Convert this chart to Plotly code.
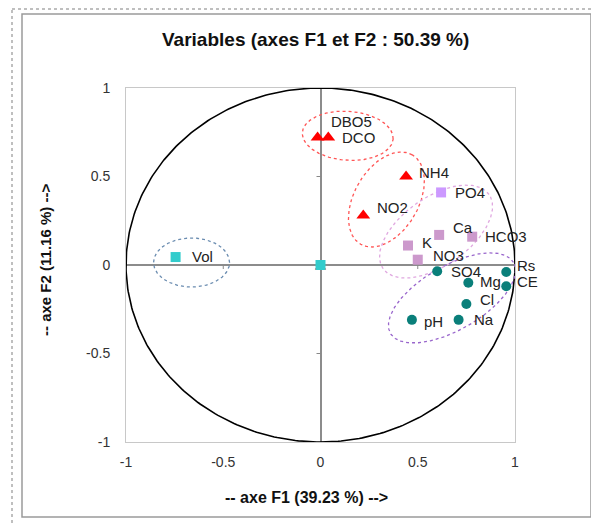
import numpy as np
import plotly.graph_objects as go

# ---------------- data ----------------
tri_labels = ["DBO5", "DCO", "NH4", "NO2"]
tri_x = [-0.015, 0.04, 0.44, 0.22]
tri_y = [0.72, 0.72, 0.50, 0.28]

sq_labels = ["PO4", "Ca", "HCO3", "K", "NO3"]
sq_x = [0.62, 0.61, 0.78, 0.45, 0.50]
sq_y = [0.41, 0.17, 0.16, 0.11, 0.03]

circ_labels = ["SO4", "Rs", "Mg", "CE", "Cl", "pH", "Na"]
circ_x = [0.60, 0.955, 0.76, 0.955, 0.75, 0.47, 0.71]
circ_y = [-0.035, -0.04, -0.10, -0.12, -0.22, -0.31, -0.31]

vol_labels = ["Vol"]
vol_x = [-0.745]
vol_y = [0.045]

origin_x = [0.0]
origin_y = [0.0]

tick_vals = [-1, -0.5, 0, 0.5, 1]
tick_text = ["-1", "-0.5", "0", "0.5", "1"]

# label offsets in pixels (dx right, dy down)
tri_off = [(13, -16), (14, 0), (13, -4), (14, -8)]
sq_off = [(14, 0), (14, -7), (13, 0), (14, -3), (15, -4)]
circ_off = [(14, 0), (11, -7), (12, -1), (11, -5), (14, -4), (12, 2), (15, 0)]
vol_off = [(16, -1)]

# ellipses: centre (data), semi-axes (px), angle (deg), colour
ell_cx = [0.14, 0.339, 0.594, 0.676, -0.663]
ell_cy = [0.73, 0.37, 0.189, -0.186, 0.014]
ell_a = [45.5, 51.6, 64.7, 71.0, 38.0]
ell_b = [24.5, 32.2, 34.2, 32.0, 24.5]
ell_ang = [-4, 60, 35, 30, 0]
ell_col = ["#FF5555", "#FF5555", "#E0A8E0", "#9966CC", "#6A8CB0"]

# ---------------- layout geometry ----------------
OFF = 8  # page body margin
W, H = 599 - OFF, 523 - OFF
ML, MT = 126 - OFF, 88 - OFF
pw, ph = 389, 354
MR, MB = W - ML - pw, H - MT - ph
sx, sy = pw / 2.0, ph / 2.0  # px per data unit

FONT = "Liberation Sans, Arial, sans-serif"

fig = go.Figure()

# unit circle
t = np.linspace(0, 2 * np.pi, 400)
fig.add_trace(go.Scatter(x=np.cos(t), y=np.sin(t), mode="lines",
                         line=dict(color="black", width=1.6),
                         hoverinfo="skip", showlegend=False))

# ellipses
for cx, cy, a, b, ang, col in zip(ell_cx, ell_cy, ell_a, ell_b, ell_ang, ell_col):
    th = np.deg2rad(ang)
    u = a * np.cos(t)
    v = b * np.sin(t)
    px = u * np.cos(th) - v * np.sin(th)
    py = u * np.sin(th) + v * np.cos(th)
    fig.add_trace(go.Scatter(x=cx + px / sx, y=cy + py / sy, mode="lines",
                             line=dict(color=col, width=1.3, dash="dot"),
                             hoverinfo="skip", showlegend=False))

# markers
fig.add_trace(go.Scatter(x=origin_x, y=[origin_y[0] - 0.012], mode="markers",
                         marker=dict(symbol="triangle-up", size=10, color="#FF0000"),
                         showlegend=False))
fig.add_trace(go.Scatter(x=tri_x, y=tri_y, mode="markers",
                         marker=dict(symbol="triangle-up", size=12, color="#FF0000"),
                         showlegend=False))
sq_colors = ["#CC99FF"] + ["#CC99CC"] * (len(sq_x) - 1)
fig.add_trace(go.Scatter(x=sq_x, y=sq_y, mode="markers",
                         marker=dict(symbol="square", size=10, color=sq_colors),
                         showlegend=False))
fig.add_trace(go.Scatter(x=circ_x, y=circ_y, mode="markers",
                         marker=dict(symbol="circle", size=10, color="#0A7F7A"),
                         showlegend=False))
fig.add_trace(go.Scatter(x=vol_x + origin_x, y=vol_y + origin_y, mode="markers",
                         marker=dict(symbol="square", size=10, color="#33CCCC"),
                         showlegend=False))

annotations = []
for labels, xs, ys, offs in [(tri_labels, tri_x, tri_y, tri_off),
                             (sq_labels, sq_x, sq_y, sq_off),
                             (circ_labels, circ_x, circ_y, circ_off),
                             (vol_labels, vol_x, vol_y, vol_off)]:
    for lab, x, y, (dx, dy) in zip(labels, xs, ys, offs):
        annotations.append(dict(x=x, y=y, xref="x", yref="y", text=lab,
                                showarrow=False, xanchor="left", yanchor="middle",
                                xshift=dx - 2, yshift=-dy,
                                font=dict(family=FONT, size=15, color="#222222")))

# reference-pixel -> paper coordinates
def px2paper_x(p):
    return (p - OFF - ML) / pw

def px2paper_y(p):
    return (H - MB - (p - OFF)) / ph

annotations.append(dict(text="<b>Variables (axes F1 et F2 : 50.39 %)</b>",
                        x=px2paper_x(315), y=px2paper_y(40), xref="paper", yref="paper",
                        showarrow=False, xanchor="center", yanchor="middle",
                        font=dict(family=FONT, size=19, color="#111111")))
annotations.append(dict(text="<b>-- axe F1 (39.23 %) --></b>",
                        x=px2paper_x(306), y=px2paper_y(497), xref="paper", yref="paper",
                        showarrow=False, xanchor="center", yanchor="middle",
                        font=dict(family=FONT, size=16, color="#111111")))
annotations.append(dict(text="<b>-- axe F2 (11.16 %) --></b>",
                        x=px2paper_x(45), y=px2paper_y(260), xref="paper", yref="paper",
                        showarrow=False, xanchor="center", yanchor="middle", textangle=-90,
                        font=dict(family=FONT, size=15, color="#111111")))

shapes = [
    # outer chart frame
    dict(type="rect", xref="paper", yref="paper",
         x0=px2paper_x(22), x1=px2paper_x(591), y0=px2paper_y(517), y1=px2paper_y(14),
         line=dict(color="#9A9A9A", width=1.5), layer="below"),
    # dotted page borders
    dict(type="line", xref="paper", yref="paper",
         x0=px2paper_x(12), x1=px2paper_x(599), y0=px2paper_y(9), y1=px2paper_y(9),
         line=dict(color="#AAAAAA", width=1.5, dash="dot")),
    dict(type="line", xref="paper", yref="paper",
         x0=px2paper_x(12), x1=px2paper_x(12), y0=px2paper_y(523), y1=px2paper_y(9),
         line=dict(color="#AAAAAA", width=1.5, dash="dot")),
]
# small ticks on zero lines
for v in [-0.5, 0.5]:
    shapes.append(dict(type="line", xref="x", yref="y", ysizemode="pixel", yanchor=0,
                       x0=v, x1=v, y0=0, y1=-4, line=dict(color="#888888", width=1)))
    shapes.append(dict(type="line", xref="x", yref="y", xsizemode="pixel", xanchor=0,
                       x0=0, x1=-4, y0=v, y1=v, line=dict(color="#888888", width=1)))

axis_common = dict(range=[-1, 1], tickvals=tick_vals, ticktext=tick_text,
                   showgrid=False, zeroline=True, zerolinecolor="#8C8C8C", zerolinewidth=1.5,
                   showline=True, mirror=True, linecolor="#C8C8C8", linewidth=1,
                   ticks="", tickfont=dict(family=FONT, size=14, color="#333333"),
                   fixedrange=True)

fig.update_layout(
    width=W, height=H,
    margin=dict(l=ML, r=MR, t=MT, b=MB, autoexpand=False),
    paper_bgcolor="white", plot_bgcolor="white",
    xaxis=dict(**axis_common, ticklabelstandoff=7),
    yaxis=dict(**axis_common, ticklabelstandoff=12),
    annotations=annotations, shapes=shapes,
    showlegend=False,
)

fig.write_html("out.html")
